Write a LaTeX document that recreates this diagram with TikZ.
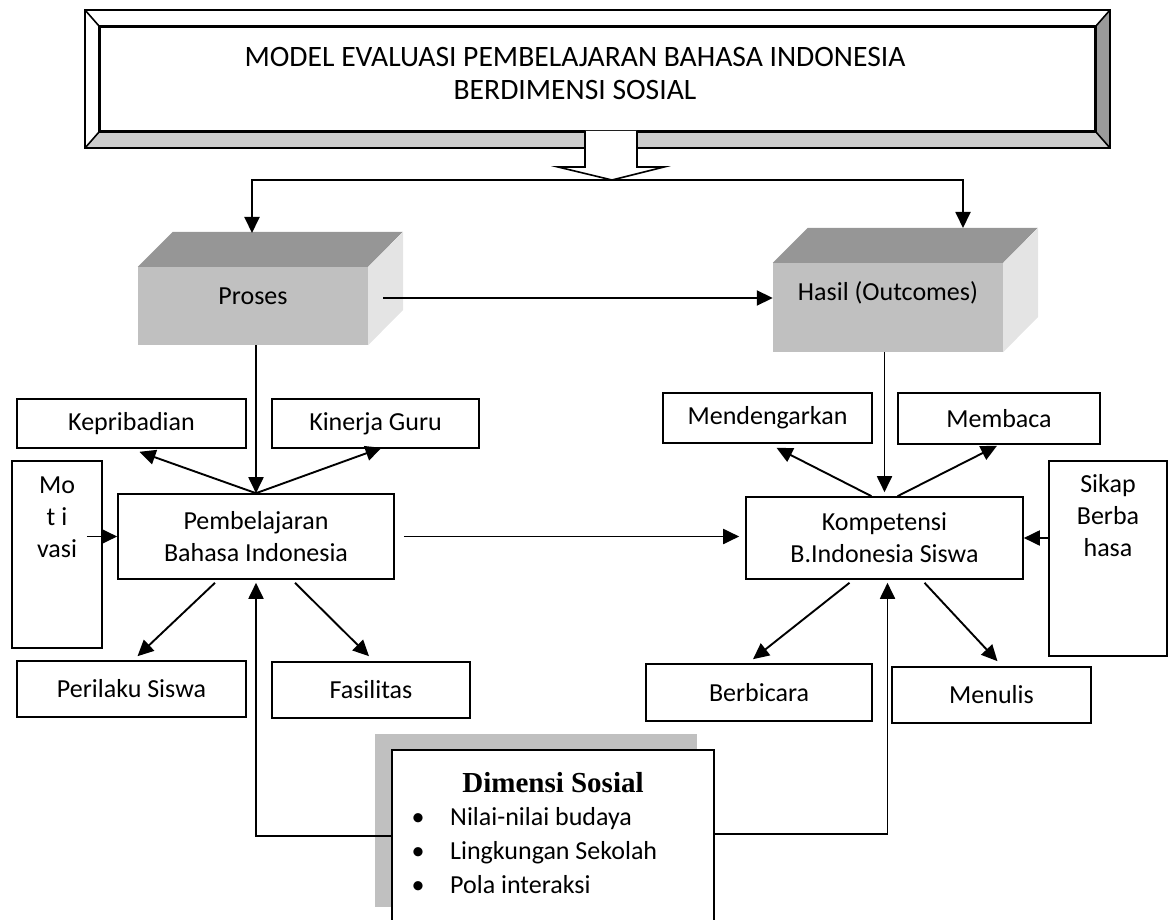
\documentclass[tikz,border=0pt]{standalone}
\usepackage{fontspec}
\setmainfont{Carlito}
\newfontfamily\headfont{Liberation Serif}
\usetikzlibrary{arrows.meta}
\definecolor{CubeFront}{HTML}{C0C0C0}
\definecolor{CubeTop}{HTML}{969696}
\definecolor{CubeSide}{HTML}{E4E4E4}
\definecolor{BevelDark}{HTML}{9A9A9A}
\definecolor{BevelLight}{HTML}{CDCDCD}
\tikzset{lbl/.style={font=\fontsize{26}{32}\selectfont,align=center,inner sep=0pt},
box/.style={lbl,draw,line width=1.6pt,fill=white},
front/.style={fill=CubeFront,inner sep=0pt},
arr/.style={-{Triangle[length=16pt,width=15pt]},line width=1.9pt}}

\begin{document}
\begin{tikzpicture}[x=1pt,y=-1pt]
\useasboundingbox (0,0) rectangle (1168,920);
% judul dengan bingkai bevel
\coordinate (otl) at (85,10); \coordinate (obr) at (1110,148);
\node[draw,line width=1.6pt,minimum width=995pt,minimum height=104pt] (title) at (597.5,79) {};
\fill[white] (otl) -- (otl-|obr) -- (title.north east) -- (title.north west) -- cycle;
\fill[white] (otl) -- (title.north west) -- (title.south west) -- (otl|-obr) -- cycle;
\fill[BevelDark] (otl-|obr) -- (obr) -- (title.south east) -- (title.north east) -- cycle;
\fill[BevelLight] (otl|-obr) -- (obr) -- (title.south east) -- (title.south west) -- cycle;
\draw[line width=1.6pt] (otl) rectangle (obr) (title.north west) rectangle (title.south east);
\draw[line width=1.6pt] (otl) -- (title.north west) (otl-|obr) -- (title.north east) (obr) -- (title.south east) (otl|-obr) -- (title.south west);
\node[lbl,font=\fontsize{29.6}{33}\selectfont] (titletext) at (575,73.5) {MODEL EVALUASI PEMBELAJARAN BAHASA INDONESIA\\BERDIMENSI SOSIAL};
\draw[line width=1.6pt,fill=white] (585,131) -- (585,167) -- (558,167) -- (612,180) coordinate (split) -- (664,167) -- (637,167) -- (637,131);
% kubus proses dan hasil
\node[front,minimum width=230pt,minimum height=78pt,label={[lbl,yshift=10pt]center:Proses}] (proses) at (253,306) {};
\fill[CubeTop] (proses.north west) -- ++(35,-35) -- ++(230,0) -- (proses.north east) -- cycle;
\fill[CubeSide] (proses.north east) -- ++(35,-35) -- ++(0,78) -- (proses.south east) -- cycle;
\node[front,minimum width=230pt,minimum height=89pt,label={[lbl,yshift=15pt]center:Hasil (Outcomes)}] (hasil) at (888,307.5) {};
\fill[CubeTop] (hasil.north west) -- ++(35,-35) -- ++(230,0) -- (hasil.north east) -- cycle;
\fill[CubeSide] (hasil.north east) -- ++(35,-35) -- ++(0,89) -- (hasil.south east) -- cycle;
\coordinate (pin) at (252,233); \coordinate (hin) at (963,228);
\draw[arr] (split) -| (pin); \draw[arr] (split) -| (hin);
\coordinate (pout) at (383,298); \draw[arr] (pout) -- (pout-|hasil.west);
% sisi kiri
\node[box,minimum width=229pt,minimum height=49pt] (kepribadian) at (131.5,423.5) {Kepribadian};
\node[box,minimum width=207pt,minimum height=49pt] (kinerja) at (375.5,423.5) {Kinerja Guru};
\node[box,minimum width=90pt,minimum height=187pt,label={[lbl,anchor=north,yshift=-16pt]north:Mo\\t i\\vasi}] (motivasi) at (57,554.5) {};
\node[box,minimum width=276pt,minimum height=85pt] (pembelajaran) at (256,536.5) {Pembelajaran\\Bahasa Indonesia};
\node[box,minimum width=229pt,minimum height=56pt] (perilaku) at (131.5,689) {Perilaku Siswa};
\node[box,minimum width=198pt,minimum height=56pt] (fasilitas) at (371,690) {Fasilitas};
% sisi kanan
\node[box,minimum width=209pt,minimum height=50pt] (mendengarkan) at (767.5,418) {Mendengarkan};
\node[box,minimum width=202pt,minimum height=51pt] (membaca) at (999,418.5) {Membaca};
\node[box,minimum width=118pt,minimum height=195pt,label={[lbl,anchor=north,yshift=-14pt]north:Sikap\\Berba\\hasa}] (sikap) at (1108,558.5) {};
\node[box,minimum width=277pt,minimum height=82pt] (kompetensi) at (884.5,538) {Kompetensi\\B.Indonesia Siswa};
\node[box,minimum width=226pt,minimum height=57pt] (berbicara) at (759,692.5) {Berbicara};
\node[box,minimum width=199pt,minimum height=56pt] (menulis) at (991.5,695) {Menulis};
\draw[arr] (pembelajaran.north|-proses.south) -- (pembelajaran.north);
\draw[arr] (kompetensi.north|-hasil.south) -- ([yshift=4pt]kompetensi.north);
\draw[arr] (pembelajaran.north) -- ([xshift=8pt,yshift=-3pt]kepribadian.south);
\draw[arr] (pembelajaran.north) -- ([xshift=6pt,yshift=1pt]kinerja.south);
\draw[arr] ([xshift=-13pt]kompetensi.north) -- ([xshift=9pt,yshift=-4pt]mendengarkan.south);
\draw[arr] ([xshift=13pt]kompetensi.north) -- ([xshift=-2pt,yshift=-1pt]membaca.south);
\draw[arr] ([xshift=-41pt,yshift=-3pt]pembelajaran.south) -- ([xshift=6pt,yshift=4pt]perilaku.north);
\draw[arr] ([xshift=39pt,yshift=-3pt]pembelajaran.south) -- ([xshift=-2pt,yshift=5pt]fasilitas.north);
\draw[arr] ([xshift=-35pt,yshift=-3pt]kompetensi.south) -- ([xshift=-6pt,yshift=4pt]berbicara.north);
\draw[arr] ([xshift=40pt,yshift=-3pt]kompetensi.south) -- ([xshift=6pt,yshift=5pt]menulis.north);
\draw[arr] ([xshift=-16pt]motivasi.east|-pembelajaran.west) -- (pembelajaran.west);
\draw[arr] (sikap.west|-kompetensi.east) -- (kompetensi.east);
\draw[arr] ([xshift=9pt]pembelajaran.east) -- ([xshift=-6pt]pembelajaran.east-|kompetensi.west);
% dimensi sosial
\fill[CubeFront] (375,734) rectangle (697,907);
\node[draw,line width=1.6pt,fill=white,minimum width=322pt,minimum height=175pt] (dimensi) at (553,837.5) {};
\node[anchor=base,inner sep=0pt,font=\headfont\bfseries\fontsize{29}{34}\selectfont] (dimhead) at (553,792) {Dimensi Sosial};
\foreach \t [count=\i] in {Nilai-nilai budaya,Lingkungan Sekolah,Pola interaksi}{
  \node[lbl,anchor=base] (dot\i) at (418,791+34*\i) {•};
  \node[lbl,anchor=base west] (item\i) at (450,791+34*\i) {\t};}
\draw[arr,shorten >=3pt] (dimensi.west|-0,836) -| (pembelajaran.south);
\draw[arr,shorten >=3pt] (dimensi.east|-0,834) -| ([xshift=3pt]kompetensi.south);
\end{tikzpicture}
\end{document}
